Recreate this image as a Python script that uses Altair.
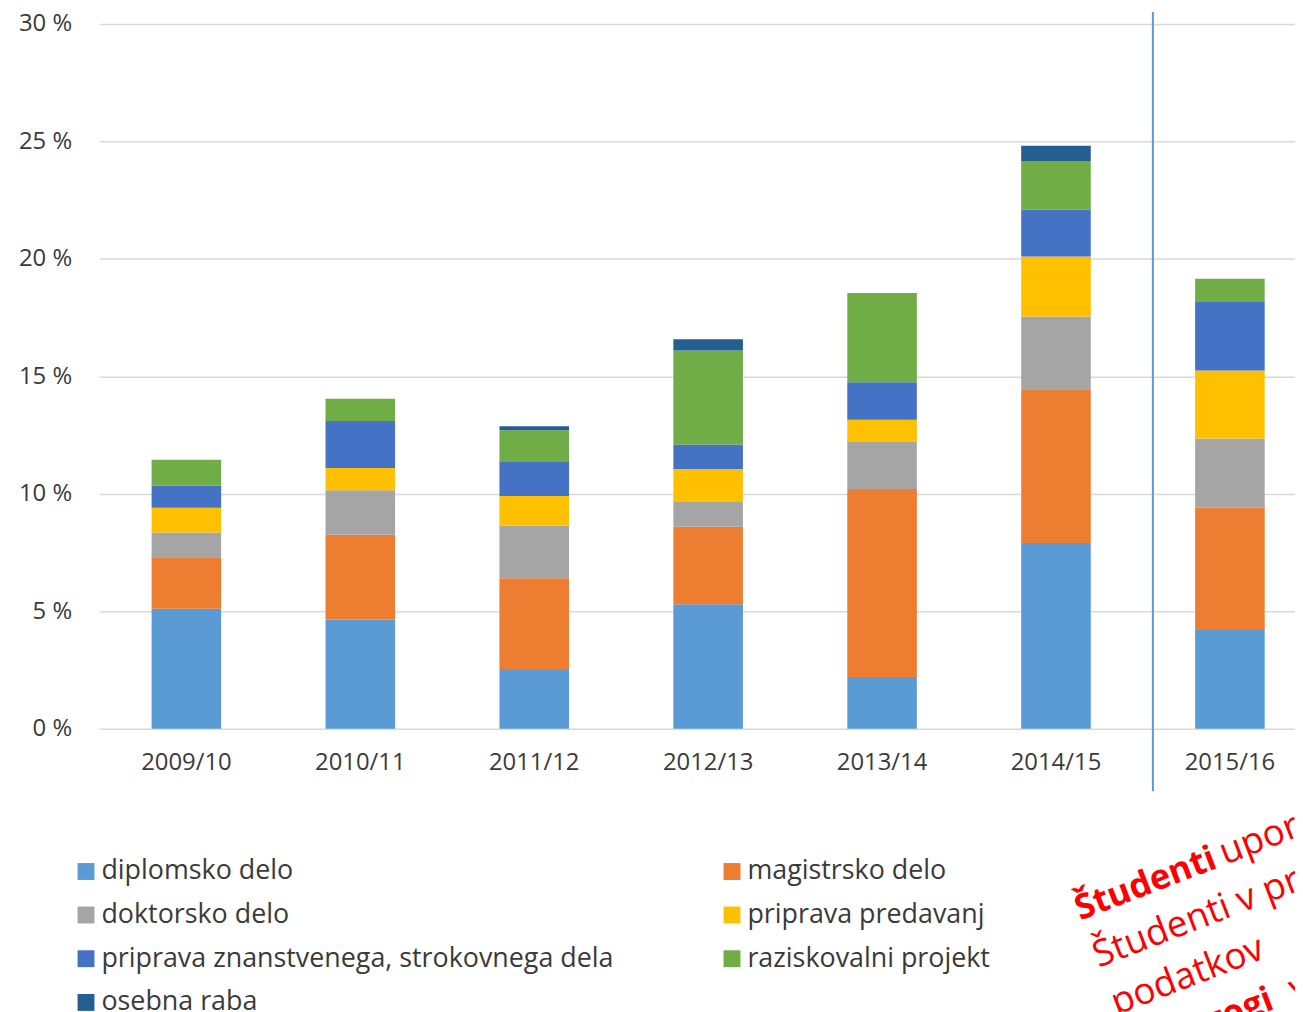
import altair as alt
import pandas as pd

categories = ["2009/10", "2010/11", "2011/12", "2012/13", "2013/14", "2014/15", "2015/16"]
series = [
    "diplomsko delo",
    "magistrsko delo",
    "doktorsko delo",
    "priprava predavanj",
    "priprava znanstvenega, strokovnega dela",
    "raziskovalni projekt",
    "osebna raba",
]
colors = ["#5B9BD5", "#ED7D31", "#A5A5A5", "#FFC000", "#4472C4", "#70AD47", "#255E91"]

diplomsko = [5.1, 4.65, 2.5, 5.3, 2.2, 7.9, 4.2]
magistrsko = [2.2, 3.6, 3.9, 3.3, 8.0, 6.55, 5.2]
doktorsko = [1.05, 1.9, 2.25, 1.05, 2.0, 3.1, 2.95]
predavanja = [1.05, 0.95, 1.25, 1.4, 0.95, 2.55, 2.9]
znanstveno = [0.95, 2.0, 1.45, 1.05, 1.6, 2.0, 2.95]
raziskovalni = [1.1, 0.95, 1.35, 4.0, 3.8, 2.05, 0.95]
osebna = [0.0, 0.0, 0.17, 0.48, 0.0, 0.67, 0.0]

y_ticks = [0, 5, 10, 15, 20, 25, 30]

note_line1_bold = ["Študenti"]
note_line1 = ["uporabljajo"]
note_line2 = ["Študenti v praksi"]
note_line3 = ["podatkov"]
note_line4_bold = ["Pedagogi"]
note_line4 = ["v"]

all_series = [diplomsko, magistrsko, doktorsko, predavanja, znanstveno, raziskovalni, osebna]
rows = []
for si, (name, vals) in enumerate(zip(series, all_series)):
    for cat, v in zip(categories, vals):
        rows.append({"leto": cat, "namen": name, "delez": v, "red": si})
df = pd.DataFrame(rows)

FONT = "Open Sans"
TXT = "#3A3A3A"

xscale = alt.Scale(domain=categories, range=[0, 1225], paddingInner=0.6, paddingOuter=0.3)
yscale = alt.Scale(domain=[0, 30], nice=False)

bars = alt.Chart(df).mark_bar().encode(
    x=alt.X(
        "leto:N",
        scale=xscale,
        axis=alt.Axis(
            title=None, labelAngle=0, ticks=False, domain=False, grid=False,
            labelPadding=22, labelFont=FONT, labelFontSize=24, labelColor=TXT,
        ),
    ),
    y=alt.Y(
        "delez:Q",
        stack="zero",
        scale=yscale,
        axis=alt.Axis(
            title=None, values=y_ticks, labelExpr="datum.value + ' %'",
            ticks=False, domain=False, grid=True, gridColor="#D9D9D9", gridWidth=1.5,
            labelPadding=28, labelFont=FONT, labelFontSize=24, labelColor=TXT,
        ),
    ),
    color=alt.Color(
        "namen:N",
        scale=alt.Scale(domain=series, range=colors),
        legend=alt.Legend(
            title=None, orient="none", legendX=-27, legendY=839, columns=2,
            direction="horizontal",
            symbolType="square", symbolSize=289, symbolStrokeWidth=0,
            labelFont=FONT, labelFontSize=27, labelColor=TXT, labelLimit=900,
            labelOffset=2, columnPadding=105, rowPadding=16, padding=0,
        ),
    ),
    order=alt.Order("red:Q", sort="ascending"),
)

# separator between the historic years and 2015/16 (decoration)
rule = alt.Chart(pd.DataFrame({"k": [0]})).mark_rule(
    color="#5B9BD5", strokeWidth=2
).encode(
    x=alt.value(1060),
    y=alt.value(-12),
    y2=alt.value(772),
)


def note(texts, bold, dx, dy):
    return alt.Chart(pd.DataFrame({"t": texts})).mark_text(
        font=FONT, fontSize=35 if bold else 37, fontWeight="bold" if bold else "normal",
        color="#FF0000", align="left", baseline="alphabetic",
        angle=339, dx=dx, dy=dy,
    ).encode(text="t:N", x=alt.value(987), y=alt.value(902))


notes = [
    note(note_line1_bold, True, 0, 0),
    note(note_line1, False, 156, 0),
    note(note_line2, False, 0, 51),
    note(note_line3, False, 0, 102),
    note(note_line4_bold, True, -6, 153),
    note(note_line4, False, 172, 153),
]

chart = alt.layer(bars, rule, *notes).properties(
    width=1200,
    height=709,
    padding={"left": 92, "top": 13, "right": 3, "bottom": 282},
    autosize=alt.AutoSizeParams(type="none"),
    background="white",
).configure_view(stroke=None)

chart.save("out.html", embed_options={"renderer": "svg", "actions": False})
